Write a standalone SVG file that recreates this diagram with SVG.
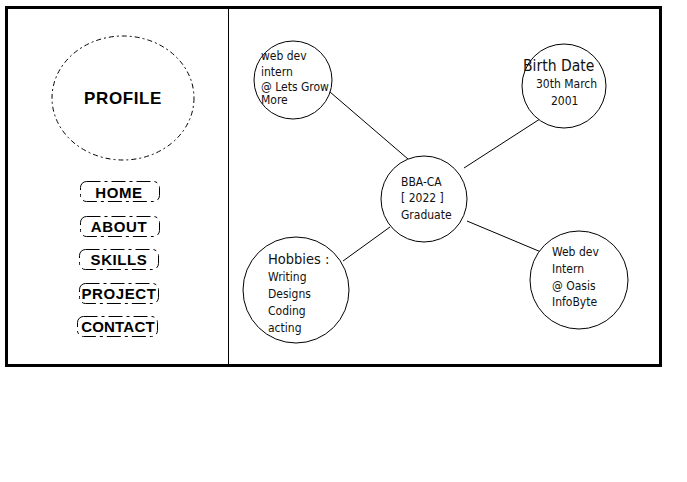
<svg xmlns="http://www.w3.org/2000/svg" width="687" height="482" viewBox="0 0 687 482">
<style>
.frame{fill:none;stroke:#000;stroke-width:3}
.div{stroke:#000;stroke-width:1}
.dash{fill:none;stroke:#000;stroke-width:1;stroke-dasharray:5 3 2 3}
.btn{fill:none;stroke:#000;stroke-width:1;stroke-dasharray:14 4 3 4}
.c{fill:#fff;stroke:#000;stroke-width:1}
.nav{font-family:"Liberation Sans",Arial,sans-serif;font-weight:bold;font-size:15px;letter-spacing:0.6px;fill:#000;text-anchor:middle}
.t{font-family:"DejaVu Sans Condensed","DejaVu Sans",sans-serif;font-size:12px;fill:#111}
.conn line{stroke:#000;stroke-width:1}
</style>
<rect width="687" height="482" fill="#fff"/>
<rect class="frame" x="6.5" y="7.5" width="654" height="358"/>
<line class="div" x1="228.5" y1="9" x2="228.5" y2="364"/>
<g id="profile">
<ellipse class="dash" cx="123" cy="98" rx="71" ry="62"/>
<text class="nav" x="123" y="104" style="font-size:17px">PROFILE</text>
</g>
<g id="home"><rect class="btn" x="80.5" y="181.5" width="79" height="20" rx="6"/><text class="nav" x="119" y="198">HOME</text></g>
<g id="about"><rect class="btn" x="80.5" y="216.5" width="79" height="20" rx="6"/><text class="nav" x="119" y="232">ABOUT</text></g>
<g id="skills"><rect class="btn" x="79.5" y="249.5" width="79" height="20" rx="6"/><text class="nav" x="119" y="265">SKILLS</text></g>
<g id="project"><rect class="btn" x="79.5" y="283.5" width="79" height="20" rx="6"/><text class="nav" x="119" y="299">PROJECT</text></g>
<g id="contact"><rect class="btn" x="77.5" y="316.5" width="80" height="20" rx="6"/><text class="nav" x="118" y="332" style="letter-spacing:0.2px">CONTACT</text></g>
<g class="conn" id="connectors">
<line x1="330" y1="92" x2="408" y2="159"/>
<line x1="543" y1="117" x2="464" y2="168"/>
<line x1="390" y1="227" x2="343" y2="261"/>
<line x1="467" y1="221" x2="541" y2="252"/>
</g>
<g id="intern1"><circle class="c" cx="293" cy="80" r="39"/>
<text class="t" x="261" y="60">web dev</text><text class="t" x="261" y="76">intern</text><text class="t" x="261" y="91">@ Lets Grow</text><text class="t" x="261" y="104">More</text></g>
<g id="birth"><circle class="c" cx="564" cy="86" r="42"/>
<text class="t" x="523" y="71" style="font-size:15.5px">Birth Date</text><text class="t" x="536" y="88">30th March</text><text class="t" x="551" y="105">2001</text></g>
<g id="bba"><circle class="c" cx="424" cy="199" r="43"/>
<text class="t" x="401" y="186">BBA-CA</text><text class="t" x="401" y="202">[ 2022 ]</text><text class="t" x="401" y="219">Graduate</text></g>
<g id="hobbies"><circle class="c" cx="296" cy="290" r="53"/>
<text class="t" x="268" y="264" style="font-size:14.5px">Hobbies :</text><text class="t" x="268" y="281">Writing</text><text class="t" x="268" y="298">Designs</text><text class="t" x="268" y="315">Coding</text><text class="t" x="268" y="332">acting</text></g>
<g id="intern2"><circle class="c" cx="579" cy="280" r="49"/>
<text class="t" x="552" y="256">Web dev</text><text class="t" x="552" y="273">Intern</text><text class="t" x="552" y="290">@ Oasis</text><text class="t" x="552" y="306">InfoByte</text></g>
</svg>
